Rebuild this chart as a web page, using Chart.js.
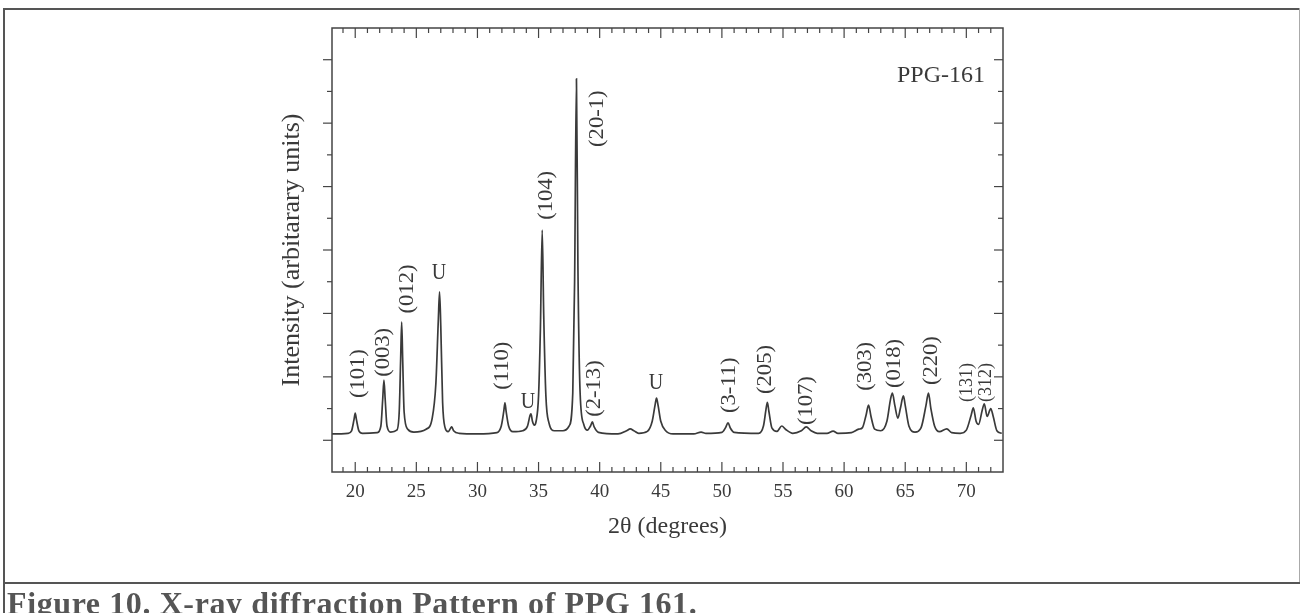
<!DOCTYPE html>
<html><head><meta charset="utf-8">
<script src="https://cdn.jsdelivr.net/npm/chart.js@4.4.0/dist/chart.umd.min.js"></script>
<style>
html,body{margin:0;padding:0;background:#fff;}
#wrap{position:relative;width:1302px;height:613px;overflow:hidden;background:#fff;}
#c{position:absolute;left:0;top:0;}
.ln{position:absolute;background:#555;}
#cap{position:absolute;left:7px;top:587px;font:bold 32px/32px "Liberation Serif",serif;color:#555;white-space:nowrap;letter-spacing:0.6px;}
</style></head><body>
<div id="wrap">
<canvas id="c" width="1302" height="613"></canvas>
<div class="ln" style="left:3px;top:8px;width:1297px;height:2px"></div>
<div class="ln" style="left:3px;top:8px;width:2px;height:605px"></div>
<div class="ln" style="left:1299px;top:8px;width:1px;height:575px;background:#aaa"></div>
<div class="ln" style="left:3px;top:582px;width:1297px;height:2px"></div>
<div id="cap">Figure 10. X-ray diffraction Pattern of PPG 161.</div>
</div>
<script>
// ---- data ----
const twoTheta = [18.1,19.4,19.7,19.9,20.0,20.1,20.3,20.6,21.8,22.1,22.25,22.35,22.45,22.6,22.9,23.4,23.6,23.72,23.8,23.88,24.0,24.3,24.8,25.8,26.3,26.6,26.8,26.9,27.0,27.15,27.35,27.6,27.8,27.9,28.05,28.5,30.0,31.6,31.95,32.15,32.25,32.35,32.55,32.9,33.7,34.1,34.3,34.38,34.5,34.65,34.8,35.0,35.15,35.3,35.42,35.6,35.85,36.3,37.0,37.5,37.8,37.95,38.1,38.22,38.4,38.7,39.0,39.25,39.4,39.55,39.9,41.5,42.2,42.5,42.8,43.2,43.9,44.3,44.55,44.65,44.78,45.0,45.4,46.0,47.7,48.3,48.7,50.0,50.3,50.5,50.7,51.0,53.0,53.4,53.6,53.72,53.85,54.1,54.5,54.9,55.2,55.8,56.5,56.9,57.3,57.8,58.6,59.1,59.5,60.6,61.2,61.5,61.8,62.0,62.2,62.5,63.0,63.5,63.8,63.95,64.15,64.4,64.6,64.85,65.0,65.3,65.8,66.3,66.7,66.9,67.1,67.4,67.8,68.4,68.8,69.5,70.0,70.4,70.57,70.8,71.0,71.3,71.47,71.7,72.0,72.2,72.5,72.9];
const intensity = [1.20,1.22,1.30,1.65,1.86,1.65,1.30,1.22,1.24,1.45,2.30,2.90,2.30,1.45,1.26,1.32,1.90,3.60,4.73,3.60,1.90,1.35,1.26,1.35,1.70,2.80,4.80,5.68,4.60,2.20,1.40,1.27,1.38,1.42,1.30,1.22,1.20,1.24,1.45,1.90,2.18,1.90,1.45,1.27,1.30,1.45,1.78,1.83,1.60,1.48,1.60,2.40,4.50,7.63,5.00,2.40,1.55,1.30,1.30,1.45,2.50,6.00,12.40,6.50,2.50,1.50,1.32,1.45,1.58,1.42,1.25,1.20,1.30,1.36,1.30,1.22,1.28,1.60,2.15,2.33,2.10,1.60,1.30,1.20,1.20,1.26,1.22,1.25,1.40,1.55,1.38,1.25,1.22,1.45,1.95,2.20,1.90,1.38,1.28,1.45,1.35,1.22,1.30,1.42,1.30,1.22,1.22,1.29,1.22,1.24,1.35,1.40,1.80,2.11,1.75,1.35,1.30,1.60,2.30,2.49,2.10,1.70,2.00,2.40,2.10,1.45,1.26,1.40,2.10,2.49,2.00,1.45,1.27,1.36,1.24,1.22,1.32,1.80,2.02,1.60,1.50,1.95,2.15,1.75,2.00,1.75,1.30,1.22];

const peakLabels  = ['(101)','(003)','(012)','(110)','(104)','(20-1)','(2-13)','(3-11)','(205)','(107)','(303)','(018)','(220)','(131)','(312)'];
const peakLabelX  = [20.25,22.37,24.33,32.09,35.69,39.85,39.6,50.64,53.58,56.93,61.75,64.12,67.14,70.08,71.63];
const peakLabelY  = [2.33,3.0,5.0,2.59,7.95,10.25,1.74,1.86,2.46,1.48,2.56,2.65,2.74,2.21,2.21];
const uLabelX = [26.86,34.13,44.6];
const uLabelY = [6.28,2.21,2.81];

const xMajorTicks = [20,25,30,35,40,45,50,55,60,65,70];
const xMinorTicks = [19,21,22,23,24,26,27,28,29,31,32,33,34,36,37,38,39,41,42,43,44,46,47,48,49,51,52,53,54,56,57,58,59,61,62,63,64,66,67,68,69,71,72];
const yMajorTicks = [1,3,5,7,9,11,13];
const yMinorTicks = [2,4,6,8,10,12];
const sampleName = 'PPG-161';

const INK = '#3a3a3a';
const SERIF = '"Liberation Serif", "Times New Roman", serif';

const decor = {
  id: 'decor',
  afterDatasetsDraw(chart) {
    const {ctx, chartArea: a, scales: {x, y}} = chart;
    ctx.save();
    ctx.strokeStyle = '#444'; ctx.lineWidth = 1.5;
    ctx.strokeRect(a.left, a.top, a.right - a.left, a.bottom - a.top);
    ctx.lineWidth = 1.2;
    const xt = (v, len) => {
      const p = x.getPixelForValue(v);
      ctx.beginPath(); ctx.moveTo(p, a.bottom); ctx.lineTo(p, a.bottom - len); ctx.stroke();
      ctx.beginPath(); ctx.moveTo(p, a.top); ctx.lineTo(p, a.top + len); ctx.stroke();
    };
    xMajorTicks.forEach(v => xt(v, 10));
    xMinorTicks.forEach(v => xt(v, 5));
    const yt = (v, len) => {
      const p = y.getPixelForValue(v);
      ctx.beginPath(); ctx.moveTo(a.left, p); ctx.lineTo(a.left - len, p); ctx.stroke();
      ctx.beginPath(); ctx.moveTo(a.right, p); ctx.lineTo(a.right - len, p); ctx.stroke();
    };
    yMajorTicks.forEach(v => yt(v, 9));
    yMinorTicks.forEach(v => yt(v, 5));
    ctx.fillStyle = INK;
    peakLabels.forEach((t, i) => {
      const small = i >= 13;
      ctx.save();
      ctx.translate(x.getPixelForValue(peakLabelX[i]), y.getPixelForValue(peakLabelY[i]));
      ctx.rotate(-Math.PI / 2);
      ctx.scale(small ? 1.0 : 1.13, 1);
      ctx.font = (small ? 18 : 20) + 'px ' + SERIF;
      ctx.textAlign = 'left'; ctx.textBaseline = 'middle';
      ctx.fillText(t, 0, 0);
      ctx.restore();
    });
    uLabelX.forEach((v, i) => {
      ctx.save();
      ctx.translate(x.getPixelForValue(v), y.getPixelForValue(uLabelY[i]));
      ctx.scale(1, 1.15);
      ctx.font = '20px ' + SERIF;
      ctx.textAlign = 'center'; ctx.textBaseline = 'middle';
      ctx.fillText('U', 0, 0);
      ctx.restore();
    });
    ctx.font = '24px ' + SERIF;
    ctx.textAlign = 'right'; ctx.textBaseline = 'alphabetic';
    ctx.fillText(sampleName, a.right - 18, a.top + 54);
    ctx.restore();
  }
};

new Chart(document.getElementById('c'), {
  type: 'line',
  data: {
    datasets: [{
      data: twoTheta.map((t, i) => ({x: t, y: intensity[i]})),
      borderColor: INK, borderWidth: 1.7, pointRadius: 0,
      cubicInterpolationMode: 'monotone', fill: false
    }]
  },
  options: {
    responsive: false, animation: false, devicePixelRatio: 1,
    layout: {padding: {top: 28, right: 299, bottom: 0, left: 0}},
    plugins: {legend: {display: false}, tooltip: {enabled: false}},
    scales: {
      x: {
        type: 'linear', min: 18.1, max: 73,
        grid: {display: false, drawTicks: false},
        border: {display: false},
        afterBuildTicks: s => { s.ticks = xMajorTicks.map(v => ({value: v})); },
        afterFit: s => { s.height = 141; },
        ticks: {font: {family: SERIF, size: 19}, color: INK, padding: 9, maxRotation: 0, autoSkip: false},
        title: {display: true, text: '2θ (degrees)', font: {family: SERIF, size: 24}, color: INK, padding: {top: 0, bottom: 72}}
      },
      y: {
        type: 'linear', min: 0, max: 14,
        grid: {display: false, drawTicks: false},
        border: {display: false},
        ticks: {display: false},
        afterFit: s => { s.width = 332; },
        title: {display: true, text: 'Intensity (arbitarary units)', font: {family: SERIF, size: 26}, color: INK, padding: {top: 277, bottom: 0}}
      }
    }
  },
  plugins: [decor]
});
</script>
</body></html>
